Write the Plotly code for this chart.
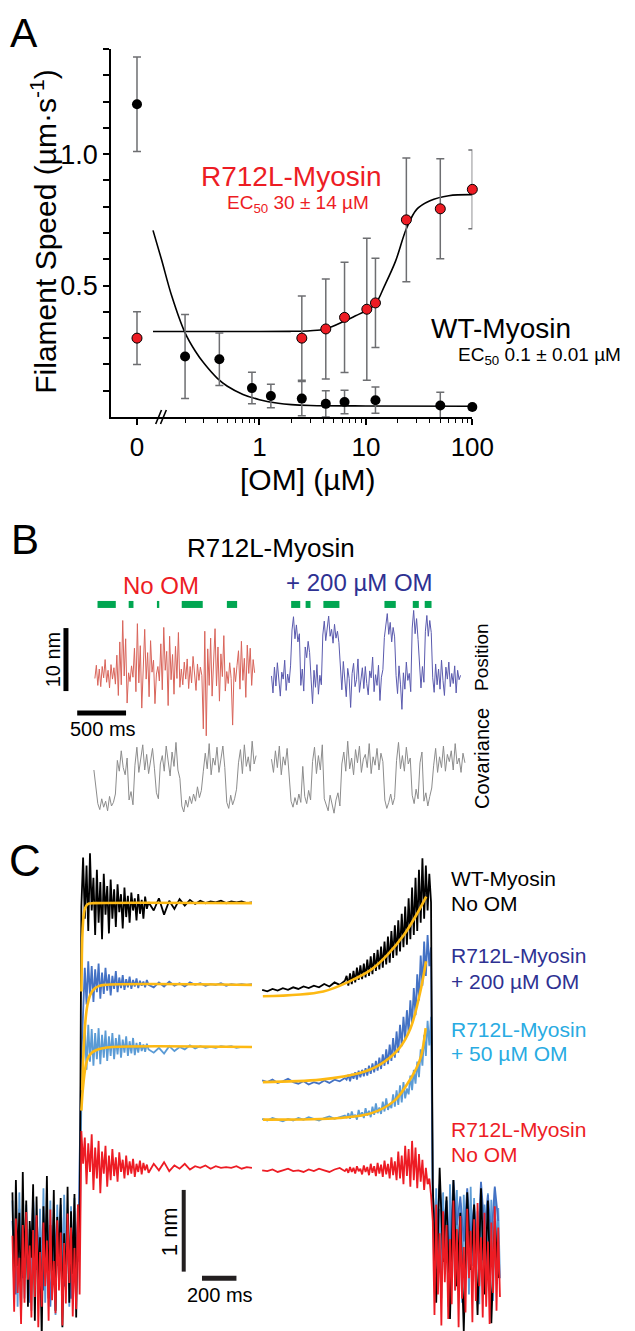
import plotly.graph_objects as go

W, H = 635, 1331
FONT = "Liberation Sans, Arial, sans-serif"

# ======================= PANEL A data =======================
CONC_WT = [0, 0.2, 0.42, 0.85, 1.28, 2.5, 4.2, 6.3, 12.3, 50, 100]
SPEED_WT = [1.19, 0.23, 0.22, 0.11, 0.08, 0.07, 0.05, 0.057, 0.064, 0.044, 0.038]
ERR_WT = [0.18, 0.16, 0.10, 0.06, 0.045, 0.065, 0.05, 0.045, 0.05, 0.05, 0.01]

CONC_R = [0, 2.5, 4.2, 6.3, 10.2, 12.3, 24, 50, 100]
SPEED_R = [0.30, 0.30, 0.335, 0.379, 0.41, 0.434, 0.75, 0.792, 0.866]
ERR_R = [0.10, 0.16, 0.19, 0.21, 0.27, 0.17, 0.235, 0.19, 0.15]

FIT_WT_X = [0.1, 0.12, 0.15, 0.2, 0.25, 0.3, 0.4, 0.5, 0.7, 1.0, 1.5, 2, 3, 10, 100]
FIT_WT_Y = [0.71, 0.60, 0.46, 0.32, 0.25, 0.205, 0.148, 0.117, 0.086, 0.066, 0.052, 0.047, 0.044, 0.042, 0.041]
FIT_R_X = [0.1, 1, 2, 3, 4.2, 6.3, 8, 10.2, 12.3, 15, 19, 24, 30, 40, 60, 100]
FIT_R_Y = [0.325, 0.325, 0.326, 0.328, 0.335, 0.365, 0.385, 0.406, 0.43, 0.50, 0.593, 0.716, 0.79, 0.823, 0.842, 0.846]

Y_TICKS_A = [0.5, 1.0]
Y_LABELS_A = ["0.5", "1.0"]
Y_MINOR_A = [0.1, 0.2, 0.3, 0.4, 0.6, 0.7, 0.8, 0.9, 1.1, 1.2, 1.3, 1.4]
X_TICKS_A = [0, 1, 10, 100]
X_LABELS_A = ["0", "1", "10", "100"]
X_MINOR_A = [0.2, 0.3, 0.4, 0.5, 0.6, 0.7, 0.8, 0.9, 2, 3, 4, 5, 6, 7, 8, 9,
             20, 30, 40, 50, 60, 70, 80, 90]

# ======================= PANEL B data =======================
SAMPLE_POS_MS = 15
SAMPLE_COV_MS = 20
POS_NO_OM = [3.1, 5.2, 2.0, 4.6, 1.8, 5.0, 3.2, 6.1, 2.5, 4.4, 1.6, 5.3, 3.0, 4.8, 2.2,
             6.8, 0.4, 8.9, 2.1, 12.3, 3.5, 9.4, -0.8,
             4.0, 2.6, 5.1, 3.3,
             7.9, 1.0, 11.8, 2.4, 8.3, -1.6, 6.5, 10.9, 3.0, 7.2, 0.2, 9.1, 4.1, 6.0, -0.9,
             3.8, 5.0, 2.7,
             8.6, 1.3, 11.2, 4.4, 7.4, -1.2, 9.8, 2.9, 6.9, 0.6, 8.2, 3.1, 10.4, 1.7,
             4.6, 2.1, 5.7, 3.0, 6.2, 1.5, 5.0, 2.4, 6.6, 3.5, 1.2, 5.4, 2.8, 4.9, 3.6,
             -4.9, 10.6, -6.0, 7.8, 2.0, 9.5, 0.3, 6.4, 11.0, 1.9, 8.1, -0.5, 7.0, 3.4, 9.9, 1.1,
             4.2, 2.3, 5.6, 3.1, -4.3, 4.8, 2.6, 5.2,
             7.5, 1.4, 9.0, 2.8, 6.3, 0.1, 8.4, 3.9, 7.9, 2.0, 6.1, 4.0]
POS_200_OM = [3.5, 0.8, 4.9, 1.9, 5.6, 2.2, 0.3, 4.1, 3.0, 6.0, 1.2, 3.8, 2.4, 5.1,
              10.8, 12.9, 9.4, 11.6, 8.9, 10.2,
              2.0, 4.6, 1.1,
              8.1, 6.4, 9.0, 7.2,
              3.0, -0.9, 4.4, 1.7, 5.3, 0.6, 3.6, 2.1,
              10.0, 12.2, 9.1, 11.4, 13.0, 9.8, 10.9, 8.7, 11.7, 9.5, 10.6, 8.8,
              4.0, 1.3, 5.8, 2.6, 0.2, 4.7, 3.1, -1.5, 3.9, 5.5, 1.8, 2.9, 6.2, 0.9, 3.4,
              4.8, 1.5, 5.0, 2.3, 0.5, 4.3, 3.2, 6.5, 1.0, 3.7, 2.0, 5.2, -0.4, 3.3, 4.5,
              9.6, 11.8, 13.4, 10.1, 12.0, 8.9, 11.2, 9.7,
              3.6, 0.7, 5.1, 2.2, -1.8, 4.0, 1.4, 5.7, 2.8, 3.9, 1.0,
              11.1, 13.9, 10.2, 12.6, 9.3,
              4.2, 1.6, 5.0, 2.5,
              10.6, 13.1, 9.8, 12.3, 10.4,
              3.2, 0.9, 5.4, 2.1, 4.6, 1.4, 6.0, 2.8, 0.4, 4.9, 3.0, 5.7, 1.8, 3.9, 2.3,
              5.1, 0.8, 4.4, 2.9, 3.6]
COV_NO_OM = [4.0, 2.5,
             1.2, 0.7, 1.6, 0.9, 1.4, 0.6, 1.8, 1.0, 1.3, 2.0,
             4.8, 3.9, 5.6, 4.2, 3.6, 5.0,
             1.5, 2.2, 1.1,
             4.4, 5.9, 3.8, 4.9, 6.1, 4.0, 5.3, 3.7, 4.6, 5.8, 4.1,
             2.1, 1.6,
             4.5, 5.2, 3.9, 6.0, 4.7, 3.5, 5.5, 4.3, 6.3, 4.0, 3.3,
             1.0, 0.5, 1.5, 0.9, 1.8, 1.2, 2.0, 1.4, 2.6, 1.7, 2.3,
             3.9, 5.4, 4.1, 6.2, 3.6, 5.0, 4.4, 5.9, 3.8, 4.8, 6.0, 4.2,
             1.3, 0.8, 1.9, 1.1, 1.6, 2.4,
             4.6, 5.7, 3.7, 6.1, 4.3, 5.1, 3.9, 6.4, 4.5, 5.2]
COV_200_OM = [4.9, 3.8, 5.6, 4.2, 6.0, 3.6, 5.1, 4.4, 5.8, 3.9,
              1.4, 0.9, 1.7, 1.1, 2.0, 1.3,
              4.3,
              1.8, 1.2, 2.3, 1.5,
              4.7, 5.9, 3.7, 5.2, 4.0, 6.1,
              1.6, 1.0, 0.6, 1.9, 1.2, 0.4, 1.5, 2.1, 1.0,
              4.5, 5.5, 3.9, 6.4, 4.1, 5.0, 3.6, 5.7, 4.6, 6.0, 3.8, 4.9, 5.3, 4.2, 6.2,
              3.7, 5.1, 4.4, 5.8, 4.0, 5.4, 4.7,
              1.5, 0.8, 1.3, 2.0, 1.1, 1.7,
              4.8, 6.3, 4.1, 5.2, 3.9, 5.9, 4.5, 5.0,
              1.9, 1.2, 2.4, 1.6,
              4.6, 5.5,
              1.4, 2.1, 1.0, 1.8, 2.5,
              4.4, 5.8, 3.8, 5.1, 4.2, 6.0, 3.9, 5.3, 4.7, 5.6, 4.0, 6.2, 4.5, 5.0, 3.8,
              5.4, 4.6]
# attached (bound) intervals, ms, relative to the start of each record
BOUND_NO_OM = [(27, 214), (346, 395), (635, 659), (889, 1104), (1351, 1456)]
BOUND_200_OM = [(201, 294), (349, 399), (531, 695), (1156, 1272), (1446, 1508), (1568, 1638)]
SCALE_B_MS = 500
SCALE_B_NM = 10

# ======================= PANEL C data (nm) =======================
STEP_FINE = 10
# start-aligned: baseline before attachment
C_BASE_RED = [0.42, -0.51, 0.63, -0.28, 0.15, -0.66, 0.55, -0.40, 0.71, -0.12, 0.30, -0.58, 0.49, -0.33,
              0.67, -0.70, 0.22, -0.45, 0.58, -0.20, 0.36, -0.62, 0.74, -0.37, 0.11, -0.53, 0.61, -0.25,
              0.46, -0.68, 0.33, -0.41, 0.69, -0.16, 0.52, -0.57, 0.27, -0.48, 0.80, -0.30]
C_BASE_BLACK = [0.95, -0.30, 1.10, 0.05, 0.70, -0.55, 1.20, -0.10, 0.85, -0.45, 0.60, 0.15, 1.05, -0.62,
                0.90, -0.20, 0.40, -0.83, 0.78, 0.02, 1.15, -0.35, 0.55, -0.15, 0.98, -0.50, 0.65, 0.10,
                0.88, -0.70, 0.45, -0.25, 1.02, -0.40, 0.72, -0.05, 0.93, -0.58, 0.80, 0.30]
C_BASE_LBLUE = [0.85, -0.20, 0.70, -0.45, 0.95, 0.05, 0.60, -0.35, 0.80, -0.10, 0.50, -0.50, 0.90, 0.00,
                0.65, -0.30, 0.75, -0.15, 1.00, -0.40, 0.55, 0.10, 0.85, -0.25, 0.45, -0.55, 0.80, -0.05,
                0.70, -0.35, 0.92, 0.08, 0.60, -0.45, 0.78, -0.18, 0.88, -0.28, 0.50, 0.20]
C_BASE_DBLUE = [0.60, -0.30, 0.75, -0.10, 0.50, -0.40, 0.85, 0.00, 0.55, -0.25, 0.70, -0.45, 0.65, 0.05,
                0.80, -0.20, 0.45, -0.35, 0.72, 0.10]
# start-aligned: after attachment
C_ON_BLACK = [4.45, 5.05, 4.30, 4.95, 4.15, 5.10, 4.40, 4.80, 4.10, 4.90, 4.25, 4.75, 4.05, 4.85, 4.35,
              4.70, 4.12, 4.78, 4.30, 4.66, 4.20, 4.72, 4.38, 4.60, 4.18, 4.68, 4.32, 4.58, 4.25, 4.62,
              4.40, 4.55, 4.28, 4.60, 4.36, 4.53, 4.30, 4.57, 4.42, 4.50,
              4.40, 4.55, 4.35, 4.52, 4.42, 4.54, 4.46, 4.53, 4.48, 4.52, 4.49, 4.51, 4.50, 4.52, 4.49,
              4.51, 4.50, 4.51, 4.49, 4.50]
C_ON_DBLUE = [2.60, 3.30, 3.70, 3.25, 3.78, 3.35, 3.72, 3.28, 3.68, 3.40, 3.75, 3.32, 3.64, 3.38, 3.70,
              3.42, 3.62, 3.36, 3.60, 3.44, 3.66, 3.40, 3.58, 3.45, 3.61, 3.43, 3.56, 3.46, 3.59, 3.44,
              3.55, 3.47, 3.57, 3.45, 3.54, 3.48, 3.53, 3.46, 3.55, 3.49,
              3.46, 3.52, 3.47, 3.53, 3.48, 3.51, 3.47, 3.52, 3.49, 3.51, 3.48, 3.50, 3.49, 3.51, 3.48,
              3.50, 3.49, 3.50, 3.49, 3.50]
C_ON_LBLUE = [2.10, 2.55, 2.98, 2.45, 3.00, 2.55, 2.95, 2.50, 2.90, 2.58, 2.96, 2.52, 2.88, 2.60, 2.93,
              2.56, 2.86, 2.62, 2.90, 2.58, 2.84, 2.64, 2.88, 2.60, 2.82, 2.66, 2.86, 2.62, 2.80, 2.65,
              2.84, 2.63, 2.78, 2.66, 2.79, 2.68, 2.76, 2.67, 2.77, 2.70,
              2.66, 2.72, 2.65, 2.74, 2.68, 2.73, 2.70, 2.75, 2.71, 2.74, 2.72, 2.73, 2.72, 2.74, 2.73,
              2.74, 2.72, 2.73, 2.73, 2.73]
C_ON_RED = [1.70, 1.30, 1.62, 1.05, 1.55, 1.20, 1.66, 0.98, 1.50, 1.12, 1.58, 0.94, 1.45, 1.18, 1.52,
            1.02, 1.40, 1.10, 1.48, 1.15, 1.38, 1.08, 1.44, 1.20, 1.35, 1.12, 1.40, 1.16, 1.33, 1.18,
            1.36, 1.14, 1.30, 1.20, 1.34, 1.17, 1.31, 1.22, 1.29, 1.19,
            1.30, 1.22, 1.32, 1.21, 1.28, 1.24, 1.30, 1.23, 1.27, 1.25, 1.28, 1.24, 1.27, 1.25, 1.26,
            1.25, 1.27, 1.24, 1.26, 1.25]
# end-aligned: before detachment
C_OFF_BLACK = [3.43, 3.41, 3.44, 3.42, 3.45, 3.43, 3.46, 3.44, 3.47, 3.45, 3.48, 3.46, 3.50, 3.47, 3.52,
               3.49, 3.54,
               3.60, 3.48, 3.63, 3.50, 3.66, 3.52, 3.70, 3.55, 3.73, 3.56,
               3.75, 3.58, 3.80, 3.60, 3.84, 3.62, 3.88, 3.66, 3.92, 3.68,
               3.96, 3.70, 4.02, 3.74, 4.08, 3.76, 4.15, 3.82, 4.22, 3.85,
               4.28, 3.90, 4.36, 3.95, 4.45, 3.98, 4.55, 4.05, 4.68, 4.10,
               4.80, 4.15, 4.90, 4.25, 5.04, 4.30, 4.95, 4.40, 4.85, 4.50]
C_OFF_DBLUE = [2.32, 2.30, 2.33, 2.29, 2.31, 2.34, 2.30, 2.28, 2.31, 2.27, 2.30, 2.28, 2.32, 2.29, 2.33,
               2.31, 2.35,
               2.33, 2.39, 2.31, 2.40, 2.34, 2.42, 2.33, 2.44, 2.36, 2.45,
               2.37, 2.47, 2.38, 2.50, 2.40, 2.53, 2.42, 2.56, 2.44, 2.60,
               2.46, 2.64, 2.50, 2.70, 2.52, 2.76, 2.56, 2.84, 2.60, 2.92,
               2.66, 3.00, 2.74, 3.10, 2.82, 3.18, 2.90, 3.30, 3.00, 3.45,
               3.12, 3.62, 3.30, 3.85, 3.48, 4.02, 3.60, 4.10, 3.72, 3.95]
C_OFF_LBLUE = [1.85, 1.83, 1.86, 1.84, 1.82, 1.85, 1.83, 1.86, 1.84, 1.87, 1.85, 1.83, 1.86, 1.88, 1.85,
               1.87, 1.89,
               1.86, 1.92, 1.85, 1.94, 1.87, 1.90, 1.84, 1.96, 1.88, 1.93,
               1.86, 1.98, 1.89, 1.95, 1.87, 2.00, 1.90, 2.04, 1.92, 1.99,
               1.91, 2.06, 1.94, 2.10, 1.96, 2.03, 1.98, 2.15, 2.00, 2.20,
               2.02, 2.26, 2.05, 2.30, 2.10, 2.22, 2.15, 2.38, 2.20, 2.45,
               2.28, 2.55, 2.36, 2.70, 2.50, 2.88, 2.62, 3.05, 2.75, 3.10]
C_OFF_RED = [1.22, 1.21, 1.23, 1.20, 1.22, 1.24, 1.21, 1.22, 1.20, 1.23, 1.21, 1.24, 1.22, 1.20, 1.23,
             1.25, 1.21,
             1.24, 1.19, 1.26, 1.20, 1.25, 1.18, 1.27, 1.21, 1.24, 1.17,
             1.28, 1.20, 1.26, 1.16, 1.30, 1.19, 1.27, 1.15, 1.31, 1.18,
             1.29, 1.14, 1.34, 1.17, 1.30, 1.12, 1.38, 1.16, 1.33, 1.10,
             1.45, 1.12, 1.40, 1.05, 1.52, 1.15, 1.48, 1.02, 1.58, 1.10,
             1.50, 1.00, 1.42, 1.08, 1.35, 0.98, 1.25, 1.05, 1.12, 0.92]
# end-aligned: baseline after detachment
C_POST_RED = [0.60, -0.55, 0.80, -0.30, 0.45, -0.68, 0.72, -0.15, 0.55, -0.60, 0.38, -0.42, 0.85, -0.25,
              0.50, -0.70, 0.66, -0.35, 0.28, -0.52, 0.75, -0.10, 0.48, -0.64, 0.62, -0.38, 0.82, -0.20,
              0.40, -0.58, 0.70, -0.45, 0.35, -0.66, 0.58, -0.28, 0.78, -0.50, 0.52, -0.33]
C_POST_LBLUE = [0.90, -0.20, 1.00, 0.10, 0.75, -0.35, 0.95, 0.00, 0.85, -0.45, 1.05, 0.15, 0.70, -0.25,
                0.98, -0.05, 0.82, -0.40, 0.92, 0.20, 0.78, -0.30, 1.02, 0.05, 0.88, -0.15, 0.72, -0.42,
                0.96, 0.12, 0.80, -0.28, 0.94, 0.02, 0.86, -0.38, 1.00, 0.18, 0.76, -0.10]
C_POST_BLACK = [1.05, -0.40, 1.25, 0.10, 0.90, -0.60, 1.10, -0.20, 0.70, -0.75, 0.95, 0.00, 0.80, -0.55,
                1.00, -0.30, 0.85, -0.65, 0.60, -0.10]
C_POST_DBLUE = [0.95, 0.30, 1.05, 0.45, 0.85, 0.20, 1.10, 0.55, 0.90, 0.35, 1.00, 0.40, 0.80, 0.25,
                1.08, 0.50, 0.92, 0.38, 1.02, 0.60]
# exponential fits
FIT_ON_BLACK_T = [0, 3, 6, 10, 15, 22, 32, 45, 70, 990]
FIT_ON_BLACK = [3.41, 3.85, 4.10, 4.26, 4.37, 4.43, 4.47, 4.485, 4.49, 4.49]
FIT_ON_DBLUE_T = [5, 10, 17, 25, 35, 50, 62, 80, 100, 134, 990]
FIT_ON_DBLUE = [2.20, 2.55, 2.85, 3.08, 3.24, 3.36, 3.41, 3.45, 3.475, 3.49, 3.49]
FIT_ON_LBLUE_T = [0, 6, 13, 22, 32, 45, 60, 85, 116, 180, 990]
FIT_ON_LBLUE = [1.95, 2.15, 2.31, 2.46, 2.56, 2.62, 2.66, 2.69, 2.71, 2.73, 2.73]
FIT_OFF_BLACK_T = [-986, -635, -486, -355, -262, -168, -94, -38]
FIT_OFF_BLACK = [3.35, 3.41, 3.53, 3.68, 3.86, 4.10, 4.35, 4.57]
FIT_OFF_DBLUE_T = [-986, -650, -423, -309, -196, -129, -73, -39]
FIT_OFF_DBLUE = [2.30, 2.33, 2.41, 2.51, 2.71, 2.96, 3.40, 3.78]
FIT_OFF_LBLUE_T = [-986, -543, -355, -224, -150, -95, -67, -41]
FIT_OFF_LBLUE = [1.84, 1.86, 1.92, 2.07, 2.27, 2.47, 2.62, 2.96]
SCALE_C_MS = 200
SCALE_C_NM = 1

# ======================= helpers & colours =======================
def px(x):
    return x / W


def py(y):
    return 1 - y / H


RED = "#ED1C24"
NAVY = "#2E3192"
CYAN = "#29ABE2"
C_DBLUE = "#4472C4"
C_LBLUE = "#5B9BD5"
FITC = "#FDB913"
GRAY_ERR = "#6D6E71"

fig = go.Figure()

# ======================= PANEL A =======================
ZERO_AT = 0.0707  # where the "0" concentration sits on the broken log axis


def xa(c):
    return ZERO_AT if c == 0 else c


fig.add_trace(go.Scatter(x=FIT_WT_X, y=FIT_WT_Y, mode="lines",
                         line=dict(color="black", width=1.6, shape="spline"),
                         xaxis="x", yaxis="y"))
fig.add_trace(go.Scatter(x=FIT_R_X, y=FIT_R_Y, mode="lines",
                         line=dict(color="black", width=1.6, shape="spline"),
                         xaxis="x", yaxis="y", cliponaxis=False))
fig.add_trace(go.Scatter(x=[xa(c) for c in CONC_WT], y=SPEED_WT, mode="markers",
                         marker=dict(size=10, color="black"), cliponaxis=False,
                         error_y=dict(type="data", array=ERR_WT, color=GRAY_ERR, thickness=1.5, width=4),
                         xaxis="x", yaxis="y"))
fig.add_trace(go.Scatter(x=[xa(c) for c in CONC_R], y=SPEED_R, mode="markers",
                         marker=dict(size=10, color=RED, line=dict(color="black", width=1)),
                         cliponaxis=False,
                         error_y=dict(type="data", array=ERR_R, color=GRAY_ERR, thickness=1.5, width=4),
                         xaxis="x", yaxis="y"))

# ======================= PANEL B =======================
B_T0_PX, B_PX_PER_MS = 90, 0.1012
B_NM0_PX, B_PX_PER_NM = 690, 6.3
B_COV0_PX, B_PX_PER_COV = 810, 12
B_SECOND_START_MS = 1808  # display offset of the second record
B_BAR_NM = 14.85

t_no = [SAMPLE_POS_MS * i for i in range(len(POS_NO_OM))]
t_200 = [B_SECOND_START_MS + SAMPLE_POS_MS * i for i in range(len(POS_200_OM))]
fig.add_trace(go.Scatter(x=t_no, y=POS_NO_OM, mode="lines", line=dict(color="#D9645A", width=1),
                         xaxis="x2", yaxis="y2"))
fig.add_trace(go.Scatter(x=t_200, y=POS_200_OM, mode="lines", line=dict(color="#5A5AAE", width=1),
                         xaxis="x2", yaxis="y2"))
tc_no = [-10 + SAMPLE_COV_MS * i for i in range(len(COV_NO_OM))]
tc_200 = [B_SECOND_START_MS + SAMPLE_COV_MS * i for i in range(len(COV_200_OM))]
fig.add_trace(go.Scatter(x=tc_no, y=COV_NO_OM, mode="lines", line=dict(color="#8C8C8C", width=1),
                         xaxis="x2", yaxis="y3"))
fig.add_trace(go.Scatter(x=tc_200, y=COV_200_OM, mode="lines", line=dict(color="#8C8C8C", width=1),
                         xaxis="x2", yaxis="y3"))
bx, by = [], []
for s, e in BOUND_NO_OM:
    bx += [s, e, None]
    by += [B_BAR_NM, B_BAR_NM, None]
for s, e in BOUND_200_OM:
    bx += [B_SECOND_START_MS + s, B_SECOND_START_MS + e, None]
    by += [B_BAR_NM, B_BAR_NM, None]
fig.add_trace(go.Scatter(x=bx, y=by, mode="lines", line=dict(color="#00A651", width=7),
                         xaxis="x2", yaxis="y2"))
# scale bars
SB_V_T, SB_V_NM0 = -296, 1.1
SB_H_T0, SB_H_NM = -181, -2.38
fig.add_trace(go.Scatter(x=[SB_V_T, SB_V_T], y=[SB_V_NM0, SB_V_NM0 + SCALE_B_NM], mode="lines",
                         line=dict(color="black", width=5), xaxis="x2", yaxis="y2"))
fig.add_trace(go.Scatter(x=[SB_H_T0, SB_H_T0 + SCALE_B_MS], y=[SB_H_NM, SB_H_NM], mode="lines",
                         line=dict(color="black", width=5), xaxis="x2", yaxis="y2"))

# ======================= PANEL C =======================
C_ON_PX, C_OFF_PX, C_PX_PER_MS = 76, 440, 0.1785
C_NM0_PX, C_PX_PER_NM = 1262, 81.7

t_base = [-400 + STEP_FINE * i for i in range(40)]
t_base_d = [-400 + 2 * STEP_FINE * i for i in range(20)]
t_on = [STEP_FINE * i for i in range(40)] + [420 + 3 * STEP_FINE * i for i in range(20)]
t_off = [-990 + 3 * STEP_FINE * i for i in range(17)] + [-500 + STEP_FINE * i for i in range(50)]
t_post = [STEP_FINE * i for i in range(40)]
t_post_c = [2 * STEP_FINE * i for i in range(20)]

lw = 1.8
for base, tb, on, col in [(C_BASE_DBLUE, t_base_d, C_ON_DBLUE, C_DBLUE),
                          (C_BASE_LBLUE, t_base, C_ON_LBLUE, C_LBLUE),
                          (C_BASE_BLACK, t_base, C_ON_BLACK, "black"),
                          (C_BASE_RED, t_base, C_ON_RED, RED)]:
    fig.add_trace(go.Scatter(x=tb + t_on, y=base + on, mode="lines", line=dict(color=col, width=lw),
                             xaxis="x4", yaxis="y4"))
for off, post, tp, col in [(C_OFF_LBLUE, C_POST_LBLUE, t_post, C_LBLUE),
                           (C_OFF_DBLUE, C_POST_DBLUE, t_post_c, C_DBLUE),
                           (C_OFF_BLACK, C_POST_BLACK, t_post_c, "black"),
                           (C_OFF_RED, C_POST_RED, t_post, RED)]:
    fig.add_trace(go.Scatter(x=t_off + tp, y=off + post, mode="lines", line=dict(color=col, width=lw),
                             xaxis="x5", yaxis="y4"))
for tt, yy in [(FIT_ON_BLACK_T, FIT_ON_BLACK), (FIT_ON_DBLUE_T, FIT_ON_DBLUE), (FIT_ON_LBLUE_T, FIT_ON_LBLUE)]:
    fig.add_trace(go.Scatter(x=tt, y=yy, mode="lines", line=dict(color=FITC, width=2.6, shape="spline"),
                             xaxis="x4", yaxis="y4"))
for tt, yy in [(FIT_OFF_BLACK_T, FIT_OFF_BLACK), (FIT_OFF_DBLUE_T, FIT_OFF_DBLUE), (FIT_OFF_LBLUE_T, FIT_OFF_LBLUE)]:
    fig.add_trace(go.Scatter(x=tt, y=yy, mode="lines", line=dict(color=FITC, width=2.6, shape="spline"),
                             xaxis="x5", yaxis="y4"))
SC_V_T, SC_V_NM0 = 594, -0.02
SC_H_T0, SC_H_NM = 700, -0.10
fig.add_trace(go.Scatter(x=[SC_V_T, SC_V_T], y=[SC_V_NM0, SC_V_NM0 + SCALE_C_NM], mode="lines",
                         line=dict(color="#231F20", width=4), xaxis="x4", yaxis="y4"))
fig.add_trace(go.Scatter(x=[SC_H_T0, SC_H_T0 + SCALE_C_MS], y=[SC_H_NM, SC_H_NM], mode="lines",
                         line=dict(color="#231F20", width=5), xaxis="x4", yaxis="y4"))

# ======================= annotations =======================
ann = []


def text(x, y, s, size, color="black", angle=0, xanchor="center", yanchor="middle"):
    ann.append(dict(x=px(x), y=py(y), xref="paper", yref="paper", text=s, showarrow=False,
                    font=dict(family=FONT, size=size, color=color), textangle=angle,
                    xanchor=xanchor, yanchor=yanchor))


text(17, 0, "A", 41, yanchor="top")
text(37, 224, "Filament Speed (µm·s<sup>-1</sup>)", 30, angle=-90)
text(311, 471, "[OM] (µM)", 30)
text(294, 168, "R712L-Myosin", 28, RED)
text(300, 196, "EC<sub>50</sub> 30 ± 14 µM", 19, RED)
text(511, 320, "WT-Myosin", 28)
text(464, 348, "EC<sub>50</sub> 0.1 ± 0.01 µM", 19, xanchor="left")

text(18, 531, "B", 42)
text(272, 540, "R712L-Myosin", 26)
text(158, 577, "No OM", 24, RED)
text(364, 575, "+ 200 µM OM", 24, NAVY)
text(47, 651, "10 nm", 20, angle=-90)
text(98, 721, "500 ms", 20)
text(491, 649, "Position", 19, angle=-90)
text(491, 750, "Covariance", 20, angle=-90)

text(18, 853, "C", 44)
for (y1, y2, l1, l2, col) in [(870, 895, "WT-Myosin", "No OM", "black"),
                             (948, 973, "R712L-Myosin", "+ 200 µM OM", NAVY),
                             (1021, 1045, "R712L-Myosin", "+ 50 µM OM", CYAN),
                             (1121, 1146, "R712L-Myosin", "No OM", RED)]:
    text(457, y1, l1, 21, col, xanchor="left")
    text(457, y2, l2, 21, col, xanchor="left")
text(167, 1224, "1 nm", 22, angle=-90)
text(220, 1287, "200 ms", 20)

# axis break marks on panel A
shapes = []
for dx in (0, 5):
    shapes.append(dict(type="line", xref="paper", yref="paper",
                       x0=px(153 + dx), y0=py(416), x1=px(159 + dx), y1=py(402),
                       line=dict(color="black", width=1.6)))

A_X0, A_X1, A_LOG0, A_LOG1 = 107, 481, -1.392, 2.0
A_Y0, A_Y1 = 409, 41
hidden = dict(visible=False, showgrid=False, zeroline=False)

fig.update_layout(
    width=W, height=H, margin=dict(l=0, r=0, t=0, b=0),
    paper_bgcolor="white", plot_bgcolor="rgba(0,0,0,0)",
    showlegend=False, font=dict(family=FONT, color="black"),
    annotations=ann, shapes=shapes,
    xaxis=dict(type="log", domain=[px(A_X0), px(A_X1)], range=[A_LOG0, A_LOG1], anchor="y",
               showline=True, linecolor="black", linewidth=2, showgrid=False, zeroline=False,
               ticks="outside", ticklen=6, tickwidth=1.5, tickcolor="black",
               tickmode="array", tickvals=[xa(v) for v in X_TICKS_A], ticktext=X_LABELS_A,
               tickfont=dict(size=26, family=FONT, color="black"),
               minor=dict(ticks="outside", ticklen=4, tickwidth=1.2, tickcolor="black",
                          tickmode="array", tickvals=X_MINOR_A, showgrid=False)),
    yaxis=dict(domain=[py(A_Y0), py(A_Y1)], range=[0, 1.4], anchor="x",
               showline=True, linecolor="black", linewidth=2, showgrid=False, zeroline=False,
               ticks="outside", ticklen=6, tickwidth=1.5, tickcolor="black",
               tickmode="array", tickvals=Y_TICKS_A, ticktext=Y_LABELS_A,
               tickfont=dict(size=27, family=FONT, color="black"),
               minor=dict(ticks="outside", ticklen=6, tickwidth=1.5, tickcolor="black",
                          tickmode="array", tickvals=Y_MINOR_A, showgrid=False)),
    xaxis2=dict(domain=[0, 1], anchor="y2",
                range=[(0 - B_T0_PX) / B_PX_PER_MS, (W - B_T0_PX) / B_PX_PER_MS], **hidden),
    yaxis2=dict(domain=[0, 1], anchor="x2",
                range=[(B_NM0_PX - H) / B_PX_PER_NM, B_NM0_PX / B_PX_PER_NM], **hidden),
    yaxis3=dict(domain=[0, 1], anchor="x2", overlaying="y2",
                range=[(B_COV0_PX - H) / B_PX_PER_COV, B_COV0_PX / B_PX_PER_COV], **hidden),
    xaxis4=dict(domain=[0, 1], anchor="y4",
                range=[(0 - C_ON_PX) / C_PX_PER_MS, (W - C_ON_PX) / C_PX_PER_MS], **hidden),
    xaxis5=dict(domain=[0, 1], anchor="y4", overlaying="x4",
                range=[(0 - C_OFF_PX) / C_PX_PER_MS, (W - C_OFF_PX) / C_PX_PER_MS], **hidden),
    yaxis4=dict(domain=[0, 1], anchor="x4",
                range=[(C_NM0_PX - H) / C_PX_PER_NM, C_NM0_PX / C_PX_PER_NM], **hidden),
)

fig.write_html("out.html")
